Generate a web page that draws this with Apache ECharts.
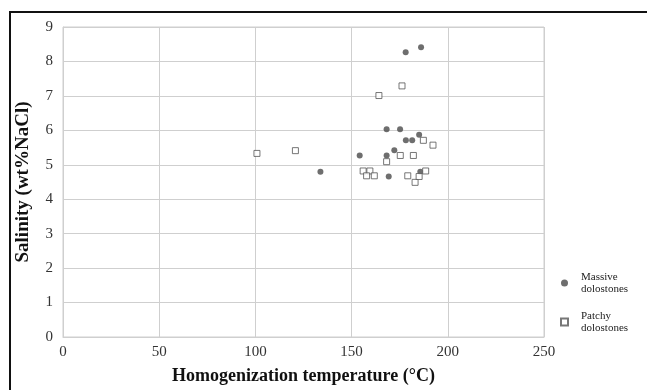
<!DOCTYPE html>
<html>
<head>
<meta charset="utf-8">
<script src="https://cdn.jsdelivr.net/npm/echarts@6/dist/echarts.min.js"></script>
<style>
  html, body { margin: 0; padding: 0; background: #fff; }
  #chart { width: 647px; height: 390px; }
</style>
</head>
<body>
<div id="chart"></div>
<script>
// Fluid-inclusion measurements: [homogenization temperature (°C), salinity (wt% NaCl)]
const massiveDolostones = [
  [133.8, 4.80], [154.2, 5.27], [168.2, 6.03], [175.2, 6.03], [178.2, 5.71],
  [181.5, 5.71], [185.1, 5.87], [172.2, 5.42], [168.2, 5.27], [169.3, 4.66],
  [185.7, 4.80], [178.1, 8.27], [186.1, 8.41]
];
const patchyDolostones = [
  [100.8, 5.33], [120.8, 5.41], [164.2, 7.01], [176.2, 7.29], [187.3, 5.71],
  [192.3, 5.57], [175.3, 5.27], [182.1, 5.27], [168.2, 5.09], [156.0, 4.82],
  [159.5, 4.82], [157.8, 4.68], [161.8, 4.68], [179.2, 4.68], [183.0, 4.49],
  [185.1, 4.66], [188.5, 4.82]
];
const seriesNames = ['Massive dolostones', 'Patchy dolostones'];
const xTicks = { min: 0, max: 250, interval: 50 };
const yTicks = { min: 0, max: 9, interval: 1 };
const xTitle = 'Homogenization temperature (\u00B0C)';
const yTitle = 'Salinity (wt%NaCl)';

const serif = "'Liberation Serif', 'Times New Roman', serif";
const gridColor = '#cfcfcf';

const chart = echarts.init(document.getElementById('chart'), null, { renderer: 'canvas' });
chart.setOption({
  animation: false,
  backgroundColor: '#fff',
  textStyle: { fontFamily: serif },
  graphic: [{
    type: 'rect',
    shape: { x: 10, y: 12, width: 700, height: 500 },
    style: { fill: 'none', stroke: '#111', lineWidth: 2 },
    silent: true,
    z: 100
  }],
  grid: { left: 63, right: 103, top: 27, bottom: 48, show: true, borderColor: gridColor, borderWidth: 1 },
  xAxis: {
    type: 'value',
    min: xTicks.min, max: xTicks.max, interval: xTicks.interval,
    name: xTitle, nameLocation: 'middle', nameGap: 30,
    nameTextStyle: { fontFamily: serif, fontWeight: 'bold', fontSize: 18, color: '#111' },
    axisLine: { lineStyle: { color: gridColor } },
    axisTick: { show: false },
    axisLabel: { fontFamily: serif, fontSize: 15, color: '#333', margin: 8 },
    splitLine: { lineStyle: { color: gridColor, width: 1 } }
  },
  yAxis: {
    type: 'value',
    min: yTicks.min, max: yTicks.max, interval: yTicks.interval,
    name: yTitle, nameLocation: 'middle', nameGap: 30,
    nameTextStyle: { fontFamily: serif, fontWeight: 'bold', fontSize: 19, color: '#111' },
    axisLine: { show: true, lineStyle: { color: gridColor } },
    axisTick: { show: false },
    axisLabel: { fontFamily: serif, fontSize: 15, color: '#333', margin: 10 },
    splitLine: { lineStyle: { color: gridColor, width: 1 } }
  },
  legend: {
    orient: 'vertical',
    left: 560, top: 271,
    padding: 0,
    itemWidth: 7, itemHeight: 7, itemGap: 15,
    formatter: name => name.replace(' ', '\n'),
    textStyle: { fontFamily: serif, fontSize: 11, color: '#222', lineHeight: 12, padding: [0, 0, 0, 8] },
    data: [
      { name: seriesNames[0], icon: 'circle' },
      { name: seriesNames[1], icon: 'rect' }
    ]
  },
  series: [
    {
      name: seriesNames[0],
      type: 'scatter',
      symbol: 'circle',
      symbolSize: 6,
      itemStyle: { color: '#4a4a4a' },
      data: massiveDolostones
    },
    {
      name: seriesNames[1],
      type: 'scatter',
      symbol: 'rect',
      symbolSize: 6,
      itemStyle: { color: '#fff', borderColor: '#555', borderWidth: 1 },
      data: patchyDolostones
    }
  ]
});
</script>
</body>
</html>
